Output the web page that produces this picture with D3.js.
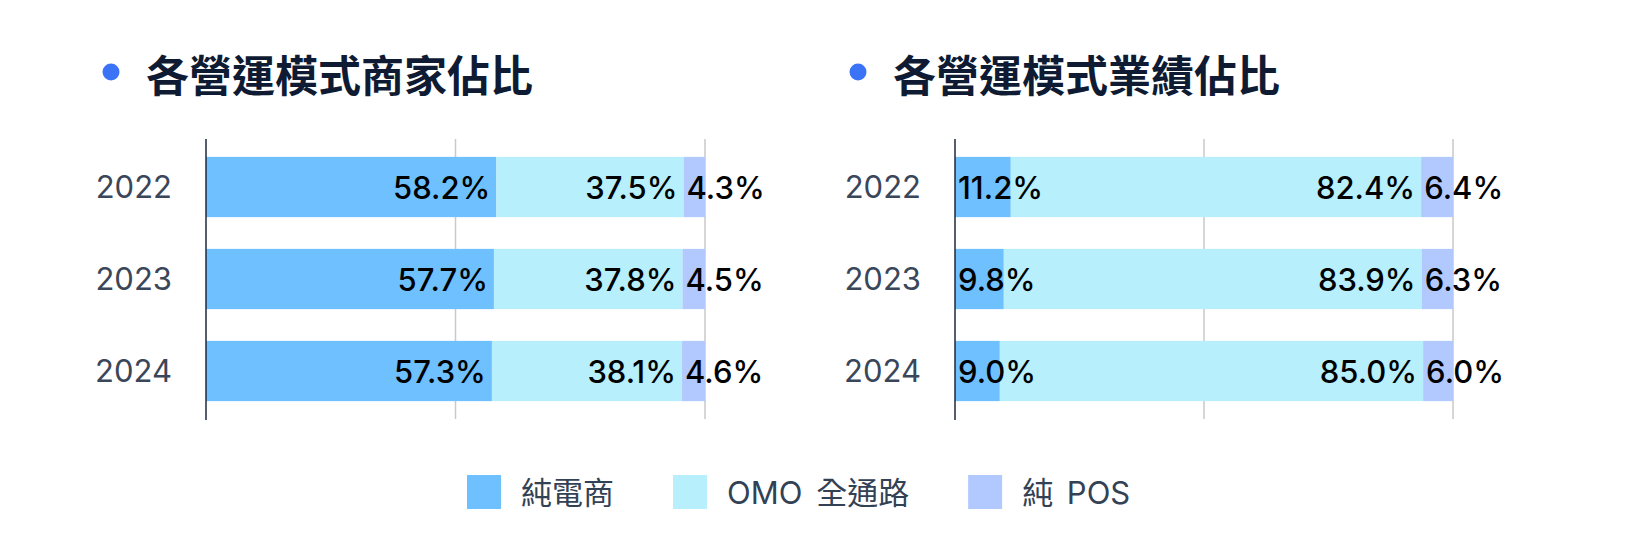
<!DOCTYPE html>
<html>
<head>
<meta charset="utf-8">
<script src="https://cdn.jsdelivr.net/npm/d3@7"></script>
<style>
  html, body { margin: 0; padding: 0; background: #fff; }
  svg { display: block; }
</style>
</head>
<body>
<svg id="chart" width="1633" height="556"></svg>
<script>
// ---- data ----
const years = ["2022", "2023", "2024"];
const seriesNames = ["純電商", "OMO 全通路", "純 POS"];
const merchantEcom = [58.2, 57.7, 57.3];
const merchantOmo  = [37.5, 37.8, 38.1];
const merchantPos  = [4.3, 4.5, 4.6];
const revenueEcom  = [11.2, 9.8, 9.0];
const revenueOmo   = [82.4, 83.9, 85.0];
const revenuePos   = [6.4, 6.3, 6.0];
const gridTicks = [50, 100];
const titles = ["各營運模式商家佔比", "各營運模式業績佔比"];

const colors = ["#6EC0FF", "#B7EFFD", "#B2C9FF"];
const latin = "Inter, 'Noto Sans CJK TC', sans-serif";
const cjk = "'Noto Sans CJK TC', 'Noto Sans CJK SC', sans-serif";

const svg = d3.select("#chart");

const panels = [
  { title: titles[0], x0: 206, x1: 705, dotX: 111, series: [merchantEcom, merchantOmo, merchantPos] },
  { title: titles[1], x0: 955, x1: 1453, dotX: 858, series: [revenueEcom, revenueOmo, revenuePos] }
];

const y = d3.scaleBand().domain(years).range([141, 417]).paddingInner(0.345).paddingOuter(0.1725);

panels.forEach(p => {
  const g = svg.append("g");
  const x = d3.scaleLinear().domain([0, 100]).range([p.x0, p.x1]);

  // title
  g.append("circle").attr("cx", p.dotX).attr("cy", 72).attr("r", 8.5).attr("fill", "#3B73F6");
  g.append("text").attr("x", p.dotX + 35).attr("y", 73)
    .attr("dominant-baseline", "central")
    .style("font-family", cjk).style("font-weight", 700).style("font-size", "43px")
    .attr("fill", "#0F1B33").text(p.title);

  // grid lines
  g.selectAll(".grid").data(gridTicks).join("line")
    .attr("x1", d => x(d)).attr("x2", d => x(d))
    .attr("y1", 139).attr("y2", 419)
    .attr("stroke", "#C9C9C9").attr("stroke-width", 1.5);

  // stacked data
  const rows = years.map((yr, i) => {
    let acc = 0;
    return p.series.map((s, k) => {
      const seg = { year: yr, k, v: s[i], start: acc, end: acc + s[i] };
      acc += s[i];
      return seg;
    });
  }).flat();

  g.selectAll(".bar").data(rows).join("rect")
    .attr("x", d => x(d.start))
    .attr("width", d => x(d.end) - x(d.start))
    .attr("y", d => y(d.year))
    .attr("height", y.bandwidth())
    .attr("fill", d => colors[d.k]);

  // axis line
  g.append("line").attr("x1", p.x0).attr("x2", p.x0).attr("y1", 139).attr("y2", 420)
    .attr("stroke", "#1E293B").attr("stroke-width", 1.5);

  // year labels
  const yAxis = d3.axisLeft(y).tickSize(0).tickPadding(34);
  const ya = g.append("g").attr("transform", `translate(${p.x0},0)`).call(yAxis);
  ya.select(".domain").remove();
  ya.selectAll("text").style("font-family", latin).style("font-size", "31px")
    .attr("fill", "#3A4659").attr("dy", "0.35em");

  // value labels
  g.selectAll(".val").data(rows).join("text")
    .attr("y", d => y(d.year) + y.bandwidth() / 2)
    .attr("dominant-baseline", "central")
    .style("font-family", latin).style("font-weight", 500).style("font-size", "31px")
    .attr("fill", "#000")
    .text(d => d.v.toFixed(1) + "%")
    .each(function(d) {
      const w = this.getComputedTextLength();
      const segW = x(d.end) - x(d.start);
      if (w + 10 <= segW) {
        d3.select(this).attr("x", x(d.end) - 6).attr("text-anchor", "end");
      } else {
        d3.select(this).attr("x", x(d.start) + 3).attr("text-anchor", "start");
      }
    });
});

// legend
const lg = svg.append("g");
let lx = 467;
seriesNames.forEach((name, i) => {
  lg.append("rect").attr("x", lx).attr("y", 475).attr("width", 34).attr("height", 34).attr("fill", colors[i]);
  const t = lg.append("text").attr("x", lx + 54).attr("y", 492)
    .attr("dominant-baseline", "central")
    .style("font-family", latin).style("font-size", "31px").style("word-spacing", "5px")
    .attr("fill", "#334155").text(name);
  lx = lx + 54 + t.node().getComputedTextLength() + 59;
});
</script>
</body>
</html>
